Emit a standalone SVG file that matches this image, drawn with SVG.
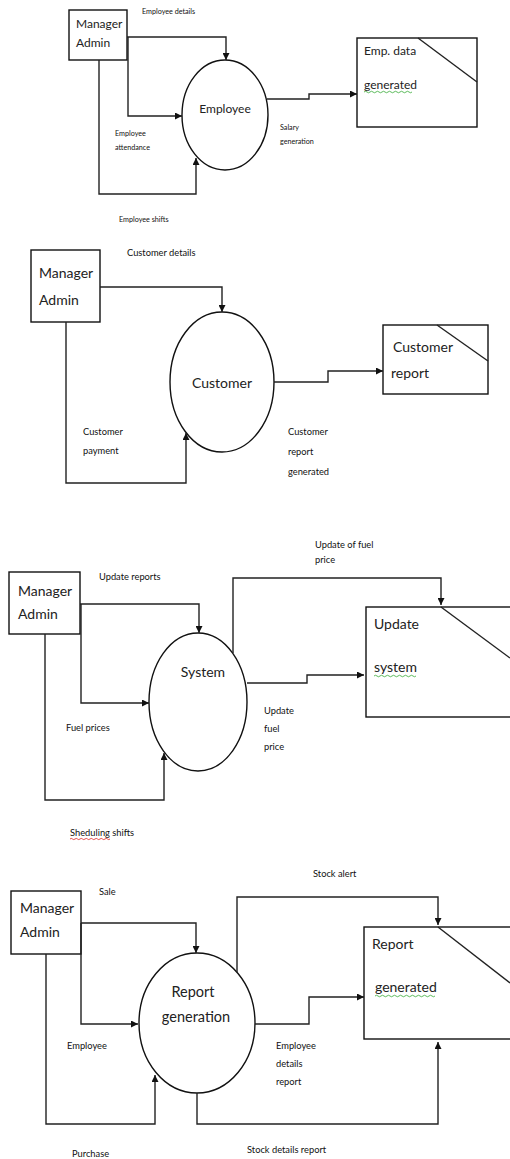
<svg xmlns="http://www.w3.org/2000/svg" width="510" height="1159" viewBox="0 0 510 1159">
<defs>
<marker id="arr" viewBox="0 0 10 10" refX="10" refY="5" markerWidth="7" markerHeight="7" markerUnits="userSpaceOnUse" orient="auto">
<path d="M0,0 L10,5 L0,10 z" fill="#111"/>
</marker>
<style>
.box{fill:#fff;stroke:#111;stroke-width:1.4}
.ln{fill:none;stroke:#222;stroke-width:1.4}
.ar{fill:none;stroke:#222;stroke-width:1.4;marker-end:url(#arr)}
.big{font-family:Lato,"Liberation Sans",sans-serif;fill:#222}
.sm{font-family:Lato,"Liberation Sans",sans-serif;fill:#111;font-size:9.3px}
.xs{font-family:Lato,"Liberation Sans",sans-serif;fill:#111;font-size:7.2px}
.sq{fill:none;stroke-width:0.8}
</style>
</defs>
<rect width="510" height="1159" fill="#fff"/>

<!-- Diagram 1 -->
<g id="admin1"><rect class="box" x="69" y="10" width="58" height="50"/>
<text class="big" x="76" y="28" font-size="12">Manager</text><text class="big" x="76" y="47" font-size="12">Admin</text></g>
<g id="employee"><ellipse class="box" cx="225" cy="115" rx="43" ry="55"/>
<text class="big" x="225" y="113" font-size="12" text-anchor="middle">Employee</text></g>
<g id="empdata"><rect class="box" x="357" y="38" width="120" height="89"/><path class="ln" d="M418,38 L477,82"/>
<text class="big" x="364" y="55" font-size="12">Emp. data</text><text class="big" x="364" y="89" font-size="12">generated</text>
<path class="sq" stroke="#3a3" d="M364,92 q1.5,-1.5 3,0 t3,0 t3,0 t3,0 t3,0 t3,0 t3,0 t3,0 t3,0 t3,0 t3,0 t3,0 t3,0 t3,0 t3,0 t3,0"/></g>

<!-- Diagram 2 -->
<g id="admin2"><rect class="box" x="31" y="250" width="69" height="72"/>
<text class="big" x="39" y="278" font-size="14">Manager</text><text class="big" x="39" y="305" font-size="14">Admin</text></g>
<g id="customer"><ellipse class="box" cx="222" cy="382" rx="52" ry="70"/>
<text class="big" x="222" y="388" font-size="14" text-anchor="middle">Customer</text></g>
<g id="custreport"><rect class="box" x="383" y="325" width="105" height="69"/><path class="ln" d="M437,325 L488,361"/>
<text class="big" x="393" y="352" font-size="14">Customer</text><text class="big" x="391" y="378" font-size="14">report</text></g>

<!-- Diagram 3 -->
<g id="admin3"><rect class="box" x="9" y="572" width="71" height="62"/>
<text class="big" x="18" y="596" font-size="14">Manager</text><text class="big" x="18" y="619" font-size="14">Admin</text></g>
<g id="system"><ellipse class="box" cx="198" cy="702" rx="49" ry="69"/>
<text class="big" x="203" y="677" font-size="14" text-anchor="middle">System</text></g>
<g id="updsystem"><rect class="box" x="366" y="607" width="160" height="110"/><path class="ln" d="M441,607 L510,658"/>
<text class="big" x="374" y="629" font-size="14">Update</text><text class="big" x="374" y="672" font-size="14">system</text>
<path class="sq" stroke="#3a3" d="M374,676 q1.5,-1.5 3,0 t3,0 t3,0 t3,0 t3,0 t3,0 t3,0 t3,0 t3,0 t3,0 t3,0 t3,0 t3,0 t3,0"/></g>

<!-- Diagram 4 -->
<g id="admin4"><rect class="box" x="11" y="891" width="70" height="63"/>
<text class="big" x="20" y="913" font-size="14">Manager</text><text class="big" x="20" y="937" font-size="14">Admin</text></g>
<g id="reportgen"><ellipse class="box" cx="197" cy="1023" rx="58" ry="70"/>
<text class="big" x="193" y="997" font-size="14.5" text-anchor="middle">Report</text><text class="big" x="196" y="1022" font-size="14.5" text-anchor="middle">generation</text></g>
<g id="repgenerated"><rect class="box" x="364" y="927" width="160" height="112"/><path class="ln" d="M438,927 L510,983"/>
<text class="big" x="372" y="949" font-size="14">Report</text><text class="big" x="375" y="992" font-size="14">generated</text>
<path class="sq" stroke="#3a3" d="M375,996 q1.5,-1.5 3,0 t3,0 t3,0 t3,0 t3,0 t3,0 t3,0 t3,0 t3,0 t3,0 t3,0 t3,0 t3,0 t3,0 t3,0 t3,0 t3,0 t3,0 t3,0 t3,0"/></g>

<!-- Connectors -->
<g id="connectors">
<path class="ar" d="M127,37 H226 V60"/>
<path class="ar" d="M128,37 V116 H182"/>
<path class="ar" d="M99,60 V194 H196 V158"/>
<path class="ar" d="M267,99 H309 V94 H357"/>

<path class="ar" d="M100,287 H222 V312"/>
<path class="ar" d="M66,322 V483 H186 V433"/>
<path class="ar" d="M274,382 H328 V371 H383"/>

<path class="ar" d="M80,604 H199 V633"/>
<path class="ar" d="M81,604 V703 H149"/>
<path class="ar" d="M45,634 V800 H164 V753"/>
<path class="ar" d="M247,683 H307 V675 H364"/>
<path class="ar" d="M233,653 V578 H441 V605"/>

<path class="ar" d="M81,923 H196 V953"/>
<path class="ar" d="M81,923 V1024 H138"/>
<path class="ar" d="M46,954 V1124 H155 V1075"/>
<path class="ar" d="M237,972 V897 H438 V925"/>
<path class="ar" d="M255,1024 H309 V997 H364"/>
<path class="ar" d="M197,1093 V1124 H438 V1042"/>
</g>

<!-- Labels -->
<g id="labels">
<text class="xs" x="142" y="14">Employee details</text>
<text class="xs" x="115" y="136">Employee</text>
<text class="xs" x="115" y="150">attendance</text>
<text class="xs" x="119" y="222">Employee shifts</text>
<text class="xs" x="280" y="130">Salary</text>
<text class="xs" x="280" y="144">generation</text>

<text class="sm" x="127" y="256">Customer details</text>
<text class="sm" x="83" y="435">Customer</text>
<text class="sm" x="83" y="454">payment</text>
<text class="sm" x="288" y="435">Customer</text>
<text class="sm" x="288" y="455">report</text>
<text class="sm" x="288" y="475">generated</text>

<text class="sm" x="315" y="548">Update of fuel</text>
<text class="sm" x="315" y="563">price</text>
<text class="sm" x="99" y="580">Update reports</text>
<text class="sm" x="66" y="731">Fuel prices</text>
<text class="sm" x="264" y="714">Update</text>
<text class="sm" x="264" y="732">fuel</text>
<text class="sm" x="264" y="750">price</text>
<text class="sm" x="70" y="836">Sheduling shifts</text>
<path class="sq" stroke="#d22" d="M70,839 q1.25,-1.2 2.5,0 t2.5,0 t2.5,0 t2.5,0 t2.5,0 t2.5,0 t2.5,0 t2.5,0 t2.5,0 t2.5,0 t2.5,0 t2.5,0 t2.5,0 t2.5,0 t2.5,0 t2.5,0"/>

<text class="sm" x="313" y="877">Stock alert</text>
<text class="sm" x="99" y="895">Sale</text>
<text class="sm" x="67" y="1049">Employee</text>
<text class="sm" x="276" y="1049">Employee</text>
<text class="sm" x="276" y="1067">details</text>
<text class="sm" x="276" y="1085">report</text>
<text class="sm" x="247" y="1153">Stock details report</text>
<text class="sm" x="72" y="1157">Purchase</text>
</g>
</svg>
